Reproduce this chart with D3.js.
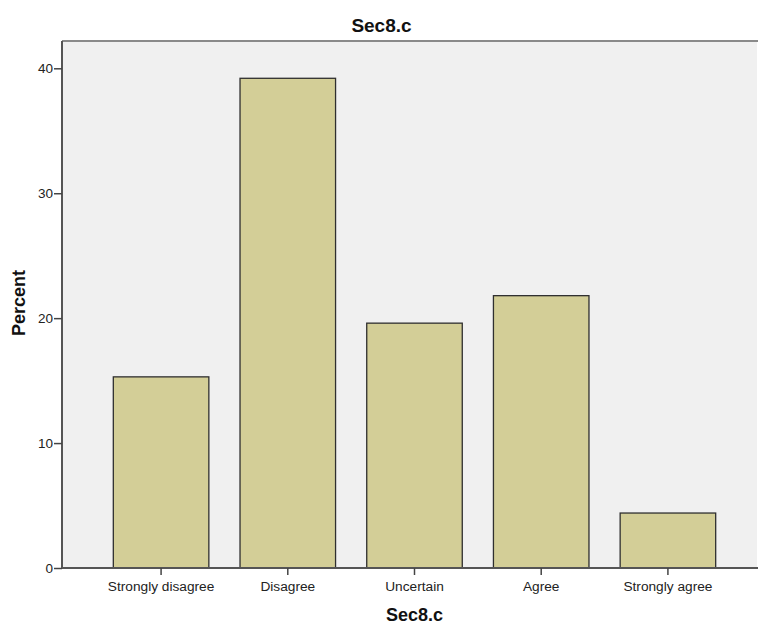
<!DOCTYPE html>
<html><head><meta charset="utf-8">
<script src="https://cdn.jsdelivr.net/npm/d3@7"></script>
<style>body{margin:0;background:#fff}svg{display:block}</style>
</head><body>
<script>
const categories = ["Strongly disagree","Disagree","Uncertain","Agree","Strongly agree"];
const percents = [15.3, 39.2, 19.6, 21.8, 4.4];
const yTicks = [0,10,20,30,40];
const title = "Sec8.c";
const xLabel = "Sec8.c";
const yLabel = "Percent";

(function(){
const W = 758, H = 624;
const pLeft = 62, pTop = 41, pBottom = 568, rightRange = 767;
const svg = d3.select("body").append("svg").attr("width", W).attr("height", H);
const font = "'Liberation Sans', Arial, sans-serif";

const x = d3.scaleBand().domain(categories).range([pLeft, rightRange]).paddingInner(0.246).paddingOuter(0.405);
const y = d3.scaleLinear().domain([0, 40]).range([pBottom, 68.3]);

svg.append("rect").attr("x", pLeft).attr("y", pTop).attr("width", 757 - pLeft).attr("height", pBottom - pTop).attr("fill", "#f0f0f0");
svg.append("line").attr("x1", pLeft).attr("x2", 758).attr("y1", pTop).attr("y2", pTop).attr("stroke", "#8a8a8a").attr("stroke-width", 2);

svg.selectAll("rect.bar").data(categories).join("rect").attr("class","bar")
  .attr("x", d => x(d)).attr("width", x.bandwidth())
  .attr("y", (d,i) => y(percents[i])).attr("height", (d,i) => y(0) - y(percents[i]))
  .attr("fill", "#d3ce97").attr("stroke", "#2f2f2f").attr("stroke-width", 1.3);

const yAxis = svg.append("g").attr("transform", `translate(${pLeft},0)`)
  .call(d3.axisLeft(y).tickValues(yTicks).tickSize(8).tickPadding(1).tickFormat(d3.format("d")));
yAxis.select(".domain").attr("d", `M0,${pTop}V${pBottom}`).attr("stroke", "#555").attr("stroke-width", 2);
yAxis.selectAll(".tick line").attr("stroke", "#444").attr("stroke-width", 1.5);
yAxis.selectAll("text").attr("font-family", font).attr("font-size", 13.5).attr("fill", "#222");

const xAxis = svg.append("g").attr("transform", `translate(0,${pBottom})`)
  .call(d3.axisBottom(x).tickSize(7).tickPadding(6));
xAxis.select(".domain").attr("d", `M${pLeft},0H758`).attr("stroke", "#555").attr("stroke-width", 2);
xAxis.selectAll(".tick line").attr("stroke", "#444").attr("stroke-width", 1.5);
xAxis.selectAll("text").attr("font-family", font).attr("font-size", 13.7).attr("fill", "#222");

svg.append("text").attr("x", 381.5).attr("y", 32).attr("text-anchor", "middle")
  .attr("font-family", font).attr("font-weight", "bold").attr("font-size", 19).attr("fill", "#111").text(title);
svg.append("text").attr("x", 414.5).attr("y", 621).attr("text-anchor", "middle")
  .attr("font-family", font).attr("font-weight", "bold").attr("font-size", 18).attr("fill", "#111").text(xLabel);
svg.append("text").attr("transform", "translate(25,303) rotate(-90)").attr("text-anchor", "middle")
  .attr("font-family", font).attr("font-weight", "bold").attr("font-size", 18).attr("fill", "#111").text(yLabel);
})();
</script>
</body></html>
